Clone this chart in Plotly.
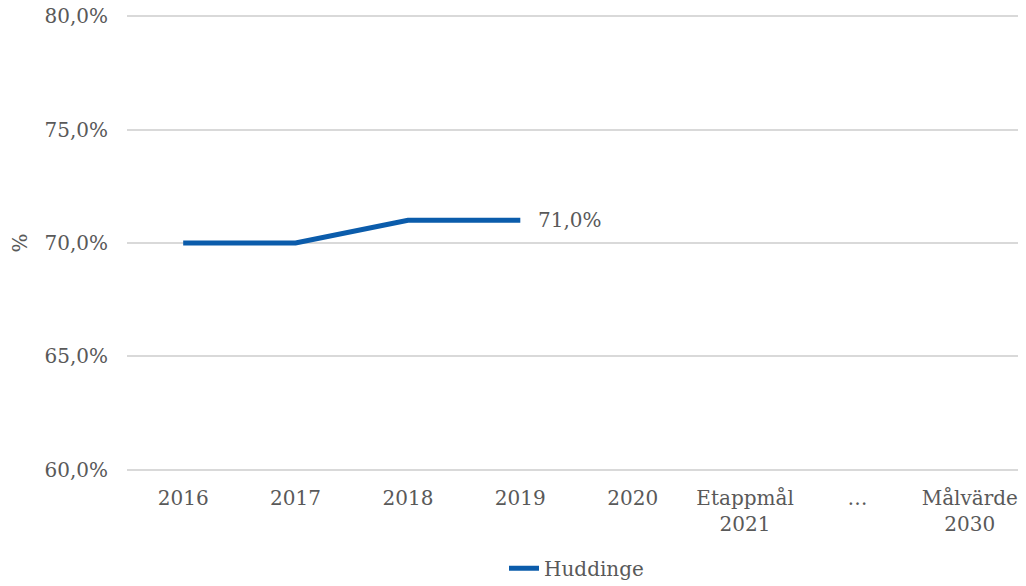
import plotly.graph_objects as go

categories = ["2016", "2017", "2018", "2019", "2020", "Etappmål<br>2021", "…", "Målvärde<br>2030"]
huddinge = [0.70, 0.70, 0.71, 0.71, None, None, None, None]
last_label = "71,0%"
y_ticks = [0.60, 0.65, 0.70, 0.75, 0.80]
y_tick_labels = ["60,0%", "65,0%", "70,0%", "75,0%", "80,0%"]

FONT = "DejaVu Serif"
FS = 20
GREY = "#595959"

fig = go.Figure()
fig.add_trace(go.Scatter(
    x=categories, y=huddinge, name="Huddinge",
    mode="lines",
    line=dict(color="#0B5CAB", width=5),
    cliponaxis=False,
))

last_idx = max(i for i, v in enumerate(huddinge) if v is not None)
fig.add_annotation(x=last_idx, y=huddinge[last_idx], text=last_label,
                   showarrow=False, xanchor="left", yanchor="middle", xshift=16,
                   font=dict(family=FONT, size=FS, color=GREY))

fig.update_layout(
    width=1018, height=578,
    margin=dict(l=119, r=0, t=6, b=114, autoexpand=False),
    paper_bgcolor="white", plot_bgcolor="white",
    font=dict(family=FONT, size=FS, color=GREY),
    showlegend=True,
    legend=dict(orientation="h", x=0.5, xanchor="center", y=-0.21, yanchor="middle",
                font=dict(family=FONT, size=FS, color=GREY)),
    xaxis=dict(type="category", categoryorder="array", categoryarray=categories,
               range=[-0.5, len(categories) - 0.5], showgrid=False, showline=False,
               zeroline=False, ticks="", automargin=False, ticklabelstandoff=12,
               tickfont=dict(family=FONT, size=FS, color=GREY)),
    yaxis=dict(range=[0.599, 0.801], tickvals=y_ticks, ticktext=y_tick_labels,
               showgrid=True, gridcolor="#D9D9D9", gridwidth=2, zeroline=False,
               showline=False, ticks="", ticklabelstandoff=18, automargin=False,
               ticklabeloverflow="allow",
               tickfont=dict(family=FONT, size=FS, color=GREY),
               title=dict(text="%", font=dict(family=FONT, size=FS, color=GREY), standoff=30)),
)

fig.write_html("out.html")
